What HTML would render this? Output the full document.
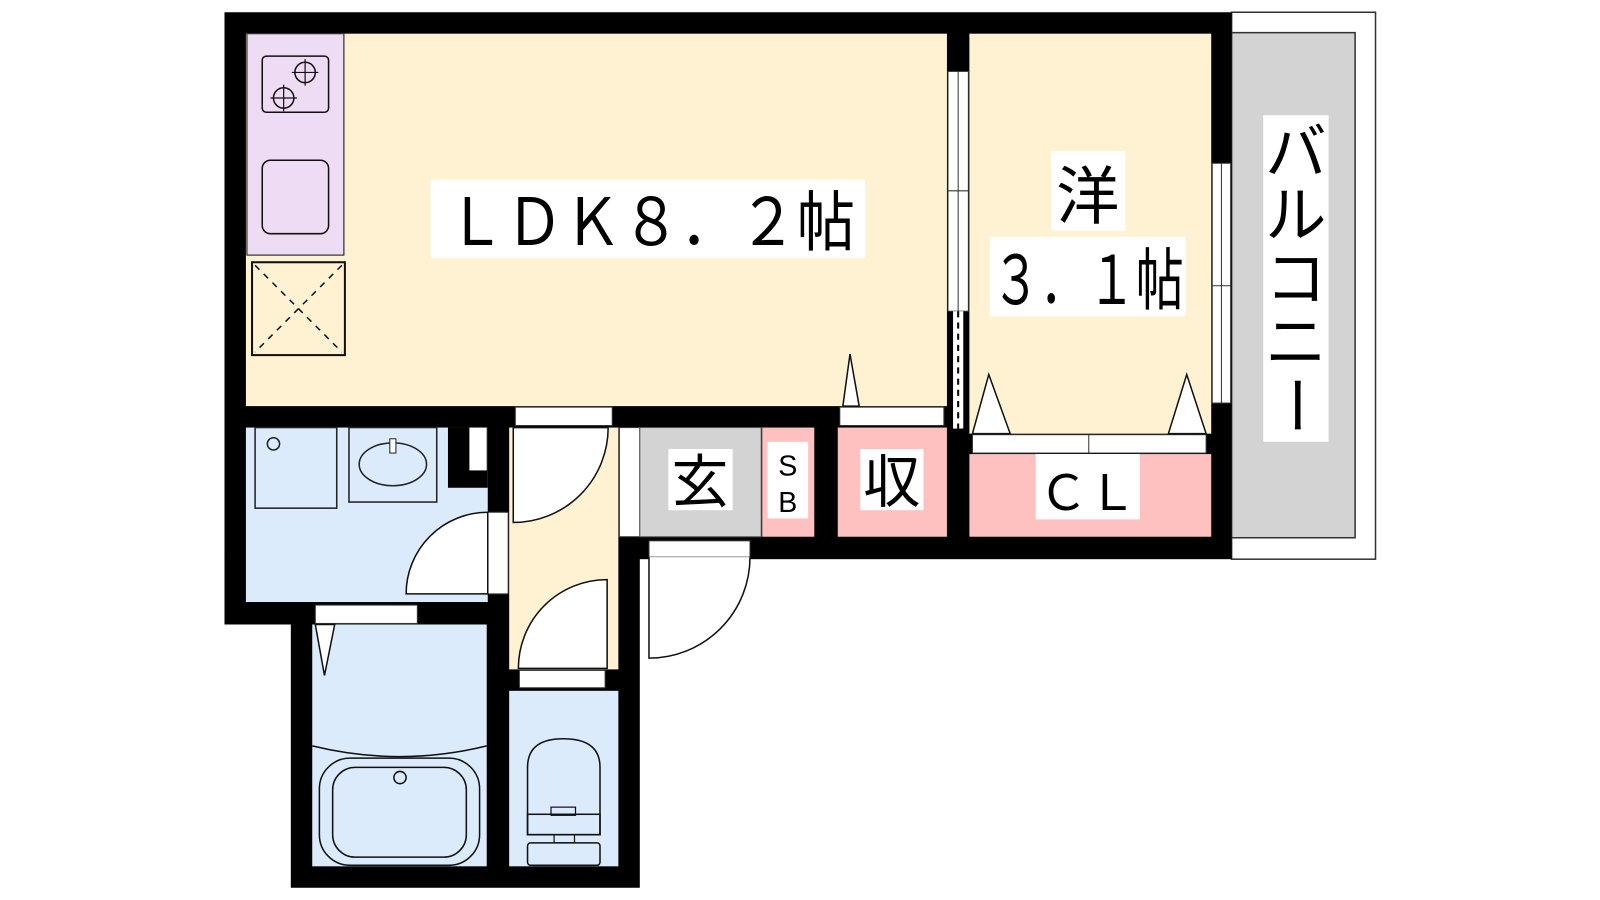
<!DOCTYPE html>
<html><head><meta charset="utf-8"><style>
html,body{margin:0;padding:0;background:#fff;width:1600px;height:900px;overflow:hidden}
svg{display:block}
text{font-family:"Liberation Sans","Noto Sans CJK JP",sans-serif;fill:#000}
</style></head><body>
<svg width="1600" height="900" viewBox="0 0 1568 882" preserveAspectRatio="none" xmlns="http://www.w3.org/2000/svg">
<rect width="1568" height="882" fill="#fff"/>
<rect x="1207" y="12" width="141" height="536" fill="#fff" stroke="#333" stroke-width="1.5"/>
<rect x="1207" y="32" width="121" height="495" fill="#d3d3d3" stroke="#333" stroke-width="1.5"/>
<rect x="220" y="12" width="987" height="536" fill="#000"/>
<rect x="220" y="540" width="280" height="72" fill="#000"/>
<rect x="285" y="540" width="342" height="330" fill="#000"/>
<rect x="241" y="33" width="687" height="365" fill="#fff2d3"/>
<rect x="242" y="33" width="95" height="217" fill="#eedcf4" stroke="#333" stroke-width="1.2"/>
<rect x="257" y="55" width="65" height="55" rx="4" fill="none" stroke="#111" stroke-width="1.5"/>
<circle cx="299" cy="71" r="10" fill="none" stroke="#111" stroke-width="1.5"/>
<circle cx="278" cy="96" r="10" fill="none" stroke="#111" stroke-width="1.5"/>
<g stroke="#111" stroke-width="1.2"><line x1="299" y1="58" x2="299" y2="84"/><line x1="286" y1="71" x2="312" y2="71"/><line x1="278" y1="83" x2="278" y2="109"/><line x1="265" y1="96" x2="291" y2="96"/></g>
<rect x="257" y="157" width="65" height="72" rx="8" fill="none" stroke="#111" stroke-width="1.5"/>
<rect x="247" y="257" width="91" height="91" fill="none" stroke="#111" stroke-width="2"/>
<g stroke="#111" stroke-width="1.5" stroke-dasharray="6,6"><line x1="250" y1="260" x2="335" y2="345"/><line x1="335" y1="260" x2="250" y2="345"/></g>
<rect x="950" y="33" width="237" height="392" fill="#fff2d3"/>
<rect x="929" y="70" width="20" height="235" fill="#fff" stroke="#333" stroke-width="1"/>
<line x1="939" y1="70" x2="939" y2="305" stroke="#333" stroke-width="1"/>
<line x1="929" y1="187" x2="949" y2="187" stroke="#333" stroke-width="1"/>
<rect x="934" y="305" width="10" height="115" fill="#fff"/>
<line x1="939" y1="305" x2="939" y2="420" stroke="#000" stroke-width="2" stroke-dasharray="6,5"/>
<rect x="1188" y="160" width="18" height="235" fill="#fff" stroke="#333" stroke-width="1"/>
<line x1="1197" y1="160" x2="1197" y2="395" stroke="#333" stroke-width="1"/>
<line x1="1188" y1="280" x2="1206" y2="280" stroke="#333" stroke-width="1"/>
<rect x="241" y="419" width="237" height="171" fill="#dcebfc"/>
<rect x="439" y="419" width="39" height="59" fill="#000"/>
<rect x="460" y="419" width="17" height="42" fill="#fff"/>
<rect x="250" y="419" width="80" height="79" fill="none" stroke="#222" stroke-width="1.5"/>
<circle cx="268" cy="435" r="6" fill="none" stroke="#222" stroke-width="1.5"/>
<rect x="342" y="419" width="86" height="73" fill="none" stroke="#222" stroke-width="1.5"/>
<ellipse cx="385" cy="455" rx="33" ry="21" fill="none" stroke="#222" stroke-width="1.5"/>
<rect x="382" y="430" width="6" height="14" fill="#fff" stroke="#222" stroke-width="1"/>
<rect x="478" y="502" width="20" height="80" fill="#fff" stroke="#333" stroke-width="1"/>
<path d="M478 502 A80 80 0 0 0 398 582 L478 582 Z" fill="#fff" stroke="#111" stroke-width="1.5"/>
<rect x="499" y="419" width="107" height="237" fill="#fff2d3"/>
<rect x="505" y="399" width="95" height="18" fill="#fff" stroke="#333" stroke-width="1"/>
<path d="M503 419 L503 512 A93 93 0 0 0 596 419 Z" fill="#fff" stroke="#111" stroke-width="1.5"/>
<rect x="607" y="419" width="20" height="107" fill="#fff" stroke="#333" stroke-width="1"/>
<rect x="509" y="657" width="84" height="17" fill="#fff" stroke="#333" stroke-width="1"/>
<path d="M595 568 L595 655 L508 655 A87 87 0 0 1 595 568 Z" fill="#fff" stroke="#111" stroke-width="1.5"/>
<rect x="627" y="419" width="119" height="107" fill="#d3d3d3" stroke="#555" stroke-width="1"/>
<rect x="747" y="419" width="51" height="107" fill="#ffc0c0"/>
<rect x="821" y="419" width="107" height="107" fill="#ffc0c0"/>
<rect x="823" y="399" width="102" height="18" fill="#fff" stroke="#333" stroke-width="1"/>
<path d="M826 398 L833 347 L842 398 Z" fill="#fff" stroke="#111" stroke-width="1.5"/>
<rect x="950" y="445" width="237" height="81" fill="#ffc0c0"/>
<rect x="953" y="426" width="229" height="18" fill="#fff" stroke="#333" stroke-width="1"/>
<line x1="1067" y1="426" x2="1067" y2="444" stroke="#333" stroke-width="1"/>
<path d="M953 425 L969 367 L990 425 Z" fill="#fff" stroke="#111" stroke-width="1.5"/>
<path d="M1145 425 L1163 367 L1182 425 Z" fill="#fff" stroke="#111" stroke-width="1.5"/>
<rect x="636" y="530" width="99" height="16" fill="#fff" stroke="#333" stroke-width="1"/>
<path d="M636 546 L636 645 A99 99 0 0 0 735 546" fill="#fff" stroke="#111" stroke-width="1.5"/>
<rect x="306" y="612" width="171" height="237" fill="#dcebfc"/>
<rect x="309" y="593" width="100" height="18" fill="#fff" stroke="#333" stroke-width="1"/>
<path d="M309 612 L318 662 L328 612 Z" fill="#fff" stroke="#111" stroke-width="1.5"/>
<path d="M306 731 Q392 752 477 731" fill="none" stroke="#111" stroke-width="1.5"/>
<rect x="313" y="743" width="157" height="105" rx="30" fill="none" stroke="#111" stroke-width="1.5"/>
<rect x="326" y="752" width="131" height="88" rx="22" fill="none" stroke="#111" stroke-width="1.5"/>
<circle cx="392" cy="762" r="6" fill="none" stroke="#111" stroke-width="1.5"/>
<rect x="499" y="677" width="107" height="172" fill="#dcebfc"/>
<path d="M517 818 L517 752 Q517 724 552 724 Q588 724 588 752 L588 818 Z" fill="none" stroke="#111" stroke-width="1.5"/>
<rect x="517" y="798" width="71" height="20" fill="none" stroke="#111" stroke-width="1.5"/>
<rect x="540" y="791" width="24" height="8" fill="none" stroke="#111" stroke-width="1.2"/>
<rect x="517" y="826" width="71" height="22" rx="3" fill="none" stroke="#111" stroke-width="1.5"/>
<rect x="543" y="818" width="20" height="8" fill="none" stroke="#111" stroke-width="1.2"/>
<rect x="422" y="176" width="426" height="77" fill="#fff"/>
<text x="438" y="240" font-size="64" textLength="400" lengthAdjust="spacingAndGlyphs">ＬＤＫ８．２帖</text>
<rect x="1030" y="148" width="73" height="78" fill="#fff"/>
<text x="1066" y="214" font-size="62" text-anchor="middle">洋</text>
<rect x="970" y="232" width="192" height="78" fill="#fff"/>
<text x="972" y="298" font-size="66" textLength="188" lengthAdjust="spacingAndGlyphs">３．１帖</text>
<rect x="1238" y="113" width="64" height="320" fill="#fff"/>
<text x="1270" y="170" font-size="60" text-anchor="middle">バ</text>
<text x="1270" y="232" font-size="60" text-anchor="middle">ル</text>
<text x="1270" y="294" font-size="60" text-anchor="middle">コ</text>
<text x="1270" y="356" font-size="60" text-anchor="middle">ニ</text>
<text x="0" y="0" font-size="60" text-anchor="middle" transform="translate(1249 397) rotate(90)">ー</text>
<rect x="655" y="440" width="63" height="60" fill="#fff"/>
<text x="686" y="492" font-size="56" text-anchor="middle">玄</text>
<rect x="752" y="433" width="40" height="75" fill="#fff"/>
<text x="772" y="466" font-size="28" text-anchor="middle">S</text>
<text x="772" y="502" font-size="28" text-anchor="middle">B</text>
<rect x="843" y="440" width="62" height="60" fill="#fff"/>
<text x="874" y="492" font-size="56" text-anchor="middle">収</text>
<rect x="1015" y="445" width="102" height="64" fill="#fff"/>
<text x="1066" y="500" font-size="48" text-anchor="middle">ＣＬ</text>
</svg>
</body></html>
